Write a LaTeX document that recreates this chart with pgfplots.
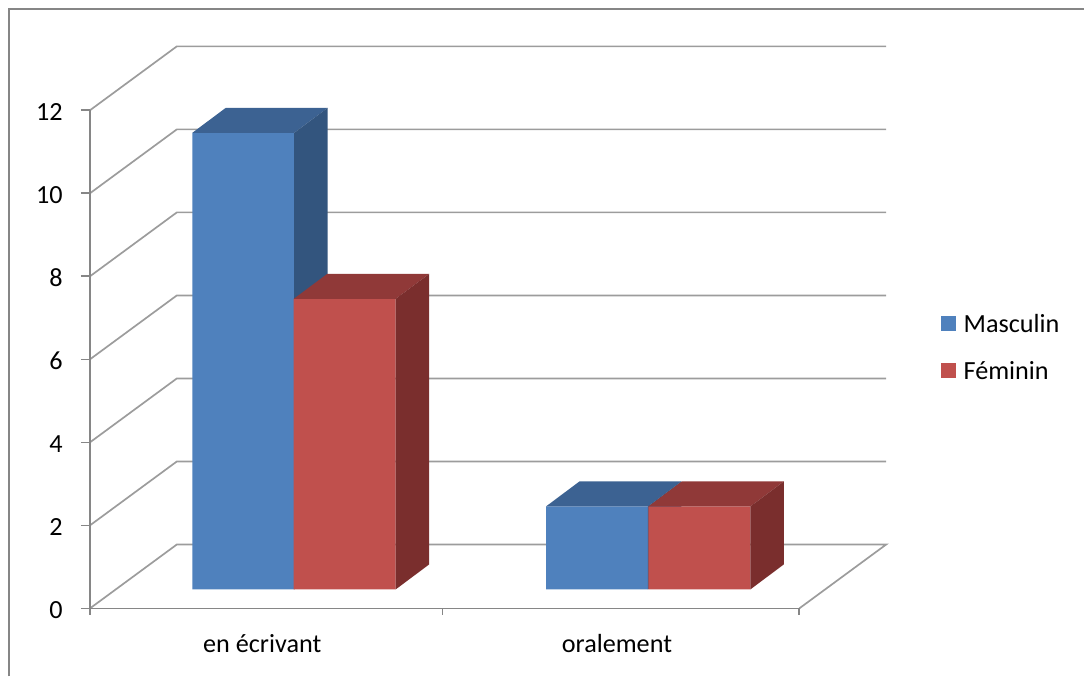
\documentclass[border=0pt]{standalone}
\usepackage{fontspec}
\setmainfont{Carlito}
\usepackage{pgfplots}
\pgfplotsset{compat=1.18}
\definecolor{mblue}{HTML}{4F81BD}
\definecolor{mbluetop}{HTML}{3C6292}
\definecolor{mblueside}{HTML}{33557E}
\definecolor{fred}{HTML}{C0504D}
\definecolor{fredtop}{HTML}{903938}
\definecolor{fredside}{HTML}{7A2E2D}
\definecolor{gridc}{HTML}{9C9C9C}
\definecolor{axc}{HTML}{868686}
\newcommand{\lbl}{\fontsize{13.1}{15.7}\selectfont}
\pgfplotsset{sqlegend/.style={legend image code/.code={\fill[##1] (0pt,1pt) rectangle (7.5pt,8.5pt);}}}
\begin{document}
\begin{tikzpicture}
\begin{axis}[
  scale only axis, width=542.5pt, height=338.5pt,
  xmin=0, xmax=1085, ymin=-2.0939, ymax=14.2,
  hide axis, clip=false,
  legend style={at={(axis cs:941.5,5.80)}, anchor=west, draw=none, fill=none,
    inner sep=0pt, outer sep=0pt, font=\lbl, row sep=13pt,
    nodes={inner sep=0pt, anchor=base west},
    /tikz/every odd column/.append style={column sep=4pt}},
]
% full-size bounding box
\path (rel axis cs:0,0) rectangle (rel axis cs:1,1);
% chart border
\draw[axc, line width=1pt] (axis cs:9,-2.0939) -- (axis cs:9,13.983) -- (axis cs:1085,13.983);
% walls gridlines
\pgfplotsinvokeforeach{2,4,6,8,10,12}{
  \draw[gridc, line width=0.85pt] (axis cs:90,{#1-0.4573}) -- (axis cs:177,{#1+1.083}) -- (axis cs:887,{#1+1.083});
}
% floor
\draw[gridc, line width=0.85pt] (axis cs:90,-0.4573) -- (axis cs:177,1.083) -- (axis cs:887,1.083) -- (axis cs:800,-0.4573);
% front axes
\draw[axc, line width=0.85pt] (axis cs:90,11.5427) -- (axis cs:90,-0.4573) -- (axis cs:800,-0.4573);
\pgfplotsinvokeforeach{0,2,4,6,8,10,12}{
  \draw[axc, line width=0.85pt] (axis cs:81,{#1-0.4573}) -- (axis cs:90,{#1-0.4573});
  \node[anchor=base east, font=\lbl, inner sep=0pt] at (axis cs:63,{#1-0.4573-0.2407}) {#1};
}
\pgfplotsinvokeforeach{90,443,800}{
  \draw[axc, line width=0.85pt] (axis cs:#1,-0.4573) -- (axis cs:#1,-0.6258);
}
\node[anchor=base, font=\lbl, inner sep=0pt] at (axis cs:262.5,-1.5162) {en écrivant};
\node[anchor=base, font=\lbl, inner sep=0pt] at (axis cs:617.5,-1.5162) {oralement};

% Masculin
\addplot[ybar, bar width=102, bar shift=0pt, fill=mblue, draw=none, sqlegend] coordinates {(243.5,11) (597.5,2)};
\addplot[fill=mbluetop, draw=none, forget plot] coordinates {(192.5,11) (294.5,11) (328,11.6017) (226,11.6017)} -- cycle;
\addplot[fill=mblueside, draw=none, forget plot] coordinates {(294.5,0) (328,0.6017) (328,11.6017) (294.5,11)} -- cycle;
\addplot[fill=mbluetop, draw=none, forget plot] coordinates {(546.5,2) (648.5,2) (682,2.6017) (580,2.6017)} -- cycle;
\addplot[fill=mblueside, draw=none, forget plot] coordinates {(648.5,0) (682,0.6017) (682,2.6017) (648.5,2)} -- cycle;
% Feminin
\addplot[ybar, bar width=102, bar shift=0pt, fill=fred, draw=none, sqlegend] coordinates {(345,7) (700,2)};
\addplot[fill=fredtop, draw=none, forget plot] coordinates {(294,7) (396,7) (429.5,7.6017) (327.5,7.6017)} -- cycle;
\addplot[fill=fredside, draw=none, forget plot] coordinates {(396,0) (429.5,0.6017) (429.5,7.6017) (396,7)} -- cycle;
\addplot[fill=fredtop, draw=none, forget plot] coordinates {(649,2) (751,2) (784.5,2.6017) (682.5,2.6017)} -- cycle;
\addplot[fill=fredside, draw=none, forget plot] coordinates {(751,0) (784.5,0.6017) (784.5,2.6017) (751,2)} -- cycle;
\legend{Masculin, Féminin}
\end{axis}
\end{tikzpicture}
\end{document}
